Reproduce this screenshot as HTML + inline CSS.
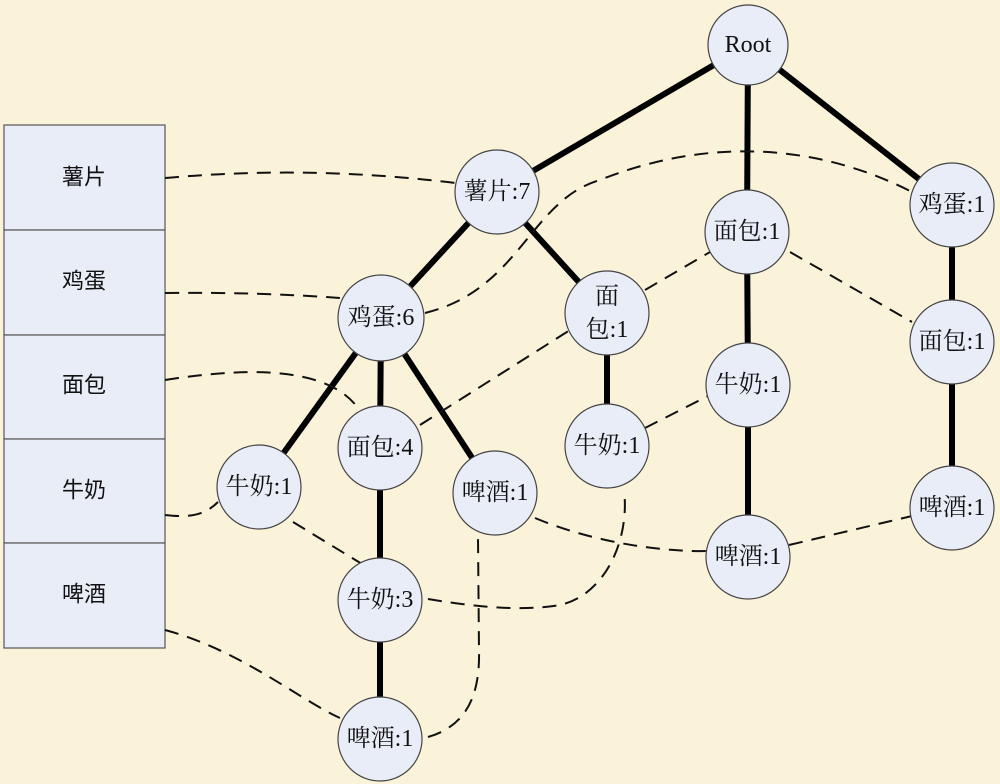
<!DOCTYPE html>
<html><head><meta charset="utf-8"><style>
html,body{margin:0;padding:0;width:1000px;height:784px;overflow:hidden;background:#fcf3dc;}
svg{display:block}
text{font-family:"Liberation Serif","Noto Serif CJK SC",serif;font-size:24px;fill:#111;text-anchor:middle;dominant-baseline:central}
.t{font-family:"Liberation Sans","Noto Sans CJK SC",sans-serif;font-size:22px}
</style></head><body>
<svg width="1000" height="784" viewBox="0 0 1000 784">
<rect width="1000" height="784" fill="#fbf2da"/>
<g fill="#e8edf8" stroke="#555" stroke-width="1.2">
<rect x="4" y="125" width="161" height="105"/>
<rect x="4" y="230" width="161" height="105"/>
<rect x="4" y="335" width="161" height="104"/>
<rect x="4" y="439" width="161" height="104"/>
<rect x="4" y="543" width="161" height="105"/>
</g>
<text class="t" x="84" y="177">薯片</text>
<text class="t" x="84" y="281">鸡蛋</text>
<text class="t" x="84" y="385">面包</text>
<text class="t" x="84" y="490">牛奶</text>
<text class="t" x="84" y="594">啤酒</text>
<g stroke="#000" stroke-width="6" fill="none">
<line x1="748" y1="45" x2="497" y2="192"/>
<line x1="748" y1="45" x2="747" y2="232"/>
<line x1="748" y1="45" x2="952" y2="205"/>
<line x1="497" y1="192" x2="381" y2="318"/>
<line x1="497" y1="192" x2="607" y2="313"/>
<line x1="747" y1="232" x2="748" y2="385"/>
<line x1="748" y1="385" x2="748" y2="557"/>
<line x1="952" y1="205" x2="952" y2="342"/>
<line x1="952" y1="342" x2="952" y2="508"/>
<line x1="381" y1="318" x2="259" y2="487"/>
<line x1="381" y1="318" x2="380" y2="448"/>
<line x1="381" y1="318" x2="495" y2="493"/>
<line x1="380" y1="448" x2="380" y2="600"/>
<line x1="380" y1="600" x2="380" y2="739"/>
<line x1="607" y1="313" x2="607" y2="446"/>
</g>
<g stroke="#111" stroke-width="2" fill="none" stroke-dasharray="14,9">
<path d="M165,178 Q310,165 455,183"/>
<path d="M165,293 Q260,292 340,298"/>
<path d="M425,313 C520,290 530,200 600,180 C700,140 810,140 912,192"/>
<path d="M165,380 C260,365 330,370 358,408"/>
<path d="M420,425 L570,330"/>
<path d="M645,290 L710,252"/>
<path d="M790,252 L912,322"/>
<path d="M165,515 C190,518 205,515 218,502"/>
<path d="M293,522 L362,564"/>
<path d="M428,599 C470,606 520,612 560,605 C605,595 630,540 624,490"/>
<path d="M645,428 L708,396"/>
<path d="M165,630 C240,650 300,700 340,718"/>
<path d="M428,737 C470,725 480,690 479,650 L478,537"/>
<path d="M535,518 C600,545 670,552 708,551"/>
<path d="M789,545 L912,516"/>
</g>
<g fill="#e9edf8" stroke="#444" stroke-width="1.2">
<circle cx="748" cy="45" r="40"/>
<circle cx="497" cy="192" r="42"/>
<circle cx="747" cy="232" r="42"/>
<circle cx="952" cy="205" r="42"/>
<circle cx="381" cy="318" r="43"/>
<circle cx="607" cy="313" r="42"/>
<circle cx="952" cy="342" r="42"/>
<circle cx="380" cy="448" r="42"/>
<circle cx="259" cy="487" r="42"/>
<circle cx="495" cy="493" r="42"/>
<circle cx="607" cy="446" r="42"/>
<circle cx="748" cy="385" r="42"/>
<circle cx="952" cy="508" r="42"/>
<circle cx="748" cy="557" r="42"/>
<circle cx="380" cy="600" r="42"/>
<circle cx="380" cy="739" r="42"/>
</g>
<text x="748" y="45">Root</text>
<text x="497" y="192">薯片:7</text>
<text x="747" y="232">面包:1</text>
<text x="952" y="205">鸡蛋:1</text>
<text x="381" y="318">鸡蛋:6</text>
<text x="607" y="297">面</text>
<text x="607" y="330">包:1</text>
<text x="952" y="342">面包:1</text>
<text x="380" y="448">面包:4</text>
<text x="259" y="487">牛奶:1</text>
<text x="495" y="493">啤酒:1</text>
<text x="607" y="446">牛奶:1</text>
<text x="748" y="385">牛奶:1</text>
<text x="952" y="508">啤酒:1</text>
<text x="748" y="557">啤酒:1</text>
<text x="380" y="600">牛奶:3</text>
<text x="380" y="739">啤酒:1</text>
</svg>
</body></html>
